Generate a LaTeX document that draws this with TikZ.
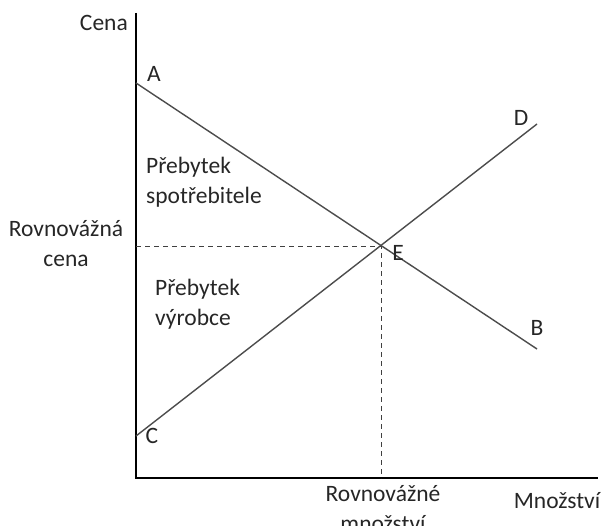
\documentclass[tikz,border=0pt]{standalone}
\usepackage{fontspec}
\setmainfont{Carlito}
\begin{document}
\begin{tikzpicture}[x=1pt,y=-1pt,
  lbl/.style={inner sep=0pt,font=\fontsize{23.5}{30}\selectfont,text=black!85},
  curve/.style={line width=1.4pt,draw=black!70},
  axis/.style={line width=1.4pt,draw=black},
  guide/.style={line width=1pt,draw=black!75,dash pattern=on 5pt off 4pt}]
\useasboundingbox (0,0) rectangle (601,526);
\coordinate (O) at (136,478);
\coordinate (Ytop) at (136,13);
\coordinate (Xend) at (598,478);
\coordinate (Apt) at (136,83);
\coordinate (Bpt) at (537,349);
\coordinate (Cpt) at (136,436);
\coordinate (Dpt) at (537,124);
\coordinate (Ept) at (381,246);
\coordinate (Ey) at (136,246);
\coordinate (Ex) at (381,478);
\draw[axis] (Ytop) -- (O) -- (Xend);
\draw[curve] (Apt) -- (Bpt);
\draw[curve] (Cpt) -- (Dpt);
\draw[guide] (Ey) -- (Ept) -- (Ex);
\node[lbl,anchor=east] (cena) at (128,23) {Cena};
\node[lbl] (a) at (154,74) {A};
\node[lbl] (b) at (537,328) {B};
\node[lbl] (c) at (152,436) {C};
\node[lbl] (d) at (521,118) {D};
\node[lbl] (e) at (398,253) {E};
\node[lbl,align=left,anchor=west] (ps) at (146,182) {Přebytek\\spotřebitele};
\node[lbl,align=left,anchor=west] (pv) at (155,304) {Přebytek\\výrobce};
\node[lbl,align=center] (rc) at (66,244) {Rovnovážná\\cena};
\node[lbl,align=center] (rm) at (383,509) {Rovnovážné\\množství};
\node[lbl] (mn) at (557,501) {Množství};
\end{tikzpicture}
\end{document}
